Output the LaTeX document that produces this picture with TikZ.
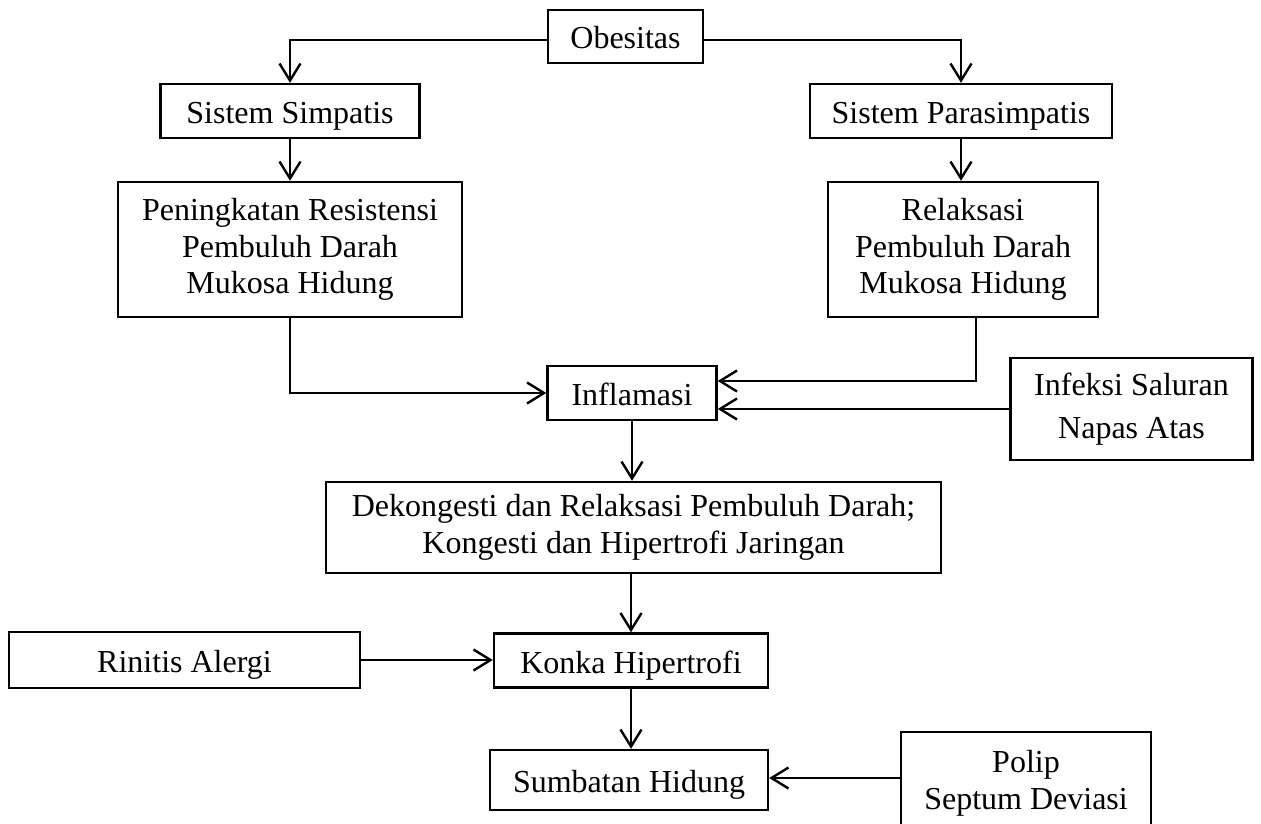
\documentclass[tikz,border=0pt]{standalone}
\usepackage{fontspec}
\setmainfont{Liberation Serif}
\usetikzlibrary{arrows.meta}
\tikzset{
  bx/.style 2 args={draw, line width=1.2pt, inner sep=0pt, align=center,
    minimum width=#1*0.5pt, minimum height=#2*0.5pt,
    font=\fontsize{16}{18.4}\selectfont},
  one/.style={text height=12.5pt, text depth=0pt},
  conn/.style={line width=1.2pt, -{Straight Barb[length=8.5pt,width=10.5pt,line width=1.2pt]}},
}
\begin{document}
\begin{tikzpicture}[x=0.5pt,y=-0.5pt]
\useasboundingbox (0,0) rectangle (1261,823);
\node[bx={155}{53},one]  (ob)   at (625.5,36.5) {Obesitas};
\node[bx={259}{54},one]  (ss)   at (290,111)    {Sistem Simpatis};
\node[bx={302}{54},one]  (sp)   at (961,111)    {Sistem Parasimpatis};
\node[bx={344}{135}] (pen)  at (290,249.5)  {Peningkatan Resistensi\\Pembuluh Darah\\Mukosa Hidung};
\node[bx={270}{135}] (rel)  at (963,249.5)  {Relaksasi\\Pembuluh Darah\\Mukosa Hidung};
\node[bx={169}{54},one]  (infl) at (632,393)    {Inflamasi};
\node[bx={242}{102},font=\fontsize{16}{21.5}\selectfont] (inf)  at (1131.5,409) {Infeksi Saluran\\Napas Atas};
\node[bx={615}{91}]  (dek)  at (633.5,527.5){Dekongesti dan Relaksasi Pembuluh Darah;\\Kongesti dan Hipertrofi Jaringan};
\node[bx={351}{56},one]  (rin)  at (184.5,660)  {Rinitis Alergi};
\node[bx={274}{54},one]  (kon)  at (631,660.5)  {Konka Hipertrofi};
\node[bx={278}{60},one]  (sum)  at (629,780)    {Sumbatan Hidung};
\node[bx={250}{102}] (pol)  at (1026,783)   {Polip\\Septum Deviasi};

\draw[conn] ([yshift=-1.75pt]ob.west) -| (ss.north);
\draw[conn] ([yshift=-1.75pt]ob.east) -| (sp.north);
\draw[conn] (ss.south) -- (ss.south |- pen.north);
\draw[conn] (sp.south) -- (sp.south |- rel.north);
\draw[conn] (pen.south) |- (infl.west);
\draw[conn] ([xshift=6.5pt]rel.south) |- ([yshift=6pt]infl.east);
\draw[conn] (inf.west) -- (inf.west -| infl.east);
\draw[conn] (infl.south) -- (infl.south |- dek.north);
\draw[conn] (dek.south -| kon.north) -- (kon.north);
\draw[conn] (rin.east) -- (rin.east -| kon.west);
\draw[conn] (kon.south) -- (kon.south |- sum.north);
\draw[conn] ([yshift=2.5pt]pol.west) -- ([yshift=2.5pt]pol.west -| sum.east);
\end{tikzpicture}
\end{document}
